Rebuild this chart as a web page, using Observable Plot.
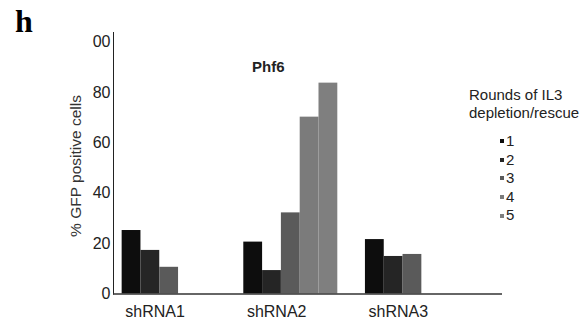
<!DOCTYPE html>
<html>
<head>
<meta charset="utf-8">
<script src="https://cdn.jsdelivr.net/npm/d3@7"></script>
<script src="https://cdn.jsdelivr.net/npm/@observablehq/plot@0.6"></script>
<style>
  html, body { margin: 0; padding: 0; background: #fff; }
  #fig { position: relative; width: 588px; height: 328px; font-family: "Liberation Sans", Arial, sans-serif; color: #222; }
  #fig svg { position: absolute; left: 0; top: 0; }
  .panel { position: absolute; left: 15px; top: 3px; font-family: "Liberation Serif", "Times New Roman", serif; font-weight: bold; font-size: 32px; color: #000; }
  .title { position: absolute; left: 252px; top: 58px; font-weight: bold; font-size: 15px; color: #222; }
  .ylabel { position: absolute; left: 76px; top: 166px; transform: translate(-50%, -50%) rotate(-90deg); white-space: nowrap; font-size: 15.5px; color: #333; }
  .legend { position: absolute; left: 469px; top: 86px; font-size: 15px; line-height: 18px; color: #222; }
  .legend .items { margin-left: 31px; margin-top: 10px; line-height: 18.6px; }
  .legend .item { display: flex; align-items: center; }
  .legend .sw { width: 4px; height: 4px; margin-right: 2px; }
</style>
</head>
<body>
<div id="fig">
  <div class="panel">h</div>
  <div class="title">Phf6</div>
  <div class="ylabel">% GFP positive cells</div>
  <div class="legend" id="legend">
    <div>Rounds of IL3</div>
    <div>depletion/rescue</div>
    <div class="items" id="items"></div>
  </div>
</div>
<script>
// Phf6 knockdown: % GFP positive cells after each round of IL3 depletion/rescue
const groups = ["shRNA1", "shRNA2", "shRNA3"];
const rounds = ["1", "2", "3", "4", "5"];
const shRNA1 = [25.2, 17.3, 10.6];
const shRNA2 = [20.6, 9.3, 32.2, 70.2, 83.7];
const shRNA3 = [21.6, 14.9, 15.7];
const roundColors = ["#0d0d0d", "#252525", "#5a5a5a", "#7b7b7b", "#7f7f7f"];
const yTicks = [0, 20, 40, 60, 80, 100];
const yTickLabels = ["0", "20", "40", "60", "80", "00"];

// bars laid out on a linear x scale, one unit per bar
const groupStart = i => 0.46 + i * 6.47;
const rows = [shRNA1, shRNA2, shRNA3].flatMap((vals, g) =>
  vals.map((v, r) => ({group: groups[g], round: rounds[r], value: v, x1: groupStart(g) + r, x2: groupStart(g) + r + 1}))
);
const labels = groups.map((name, g) => ({name, x: groupStart(g) + 1.75}));

const chart = Plot.plot({
  width: 588,
  height: 328,
  marginLeft: 113,
  marginRight: 86,
  marginTop: 32,
  marginBottom: 34.5,
  style: {fontFamily: "Liberation Sans, Arial, sans-serif", fontSize: "16px", color: "#222", background: "transparent"},
  x: {domain: [0, 20.69], axis: null},
  y: {
    domain: [0, 103.8],
    ticks: yTicks,
    tickFormat: d => yTickLabels[yTicks.indexOf(d)],
    tickSize: 0,
    tickPadding: 3,
    line: true,
    label: null
  },
  color: {domain: rounds, range: roundColors},
  marks: [
    Plot.rectY(rows, {x1: "x1", x2: "x2", y: "value", fill: "round"}),
    Plot.ruleY([0], {stroke: "#333", strokeWidth: 1.5}),
    Plot.text(labels, {x: "x", y: () => 0, text: "name", dy: 18, fontSize: 16, fill: "#222"})
  ]
});
document.getElementById("fig").prepend(chart);

// legend entries
const items = document.getElementById("items");
rounds.forEach((r, i) => {
  const row = document.createElement("div");
  row.className = "item";
  const sw = document.createElement("span");
  sw.className = "sw";
  sw.style.background = roundColors[i];
  const t = document.createElement("span");
  t.textContent = r;
  row.append(sw, t);
  items.append(row);
});
</script>
</body>
</html>
